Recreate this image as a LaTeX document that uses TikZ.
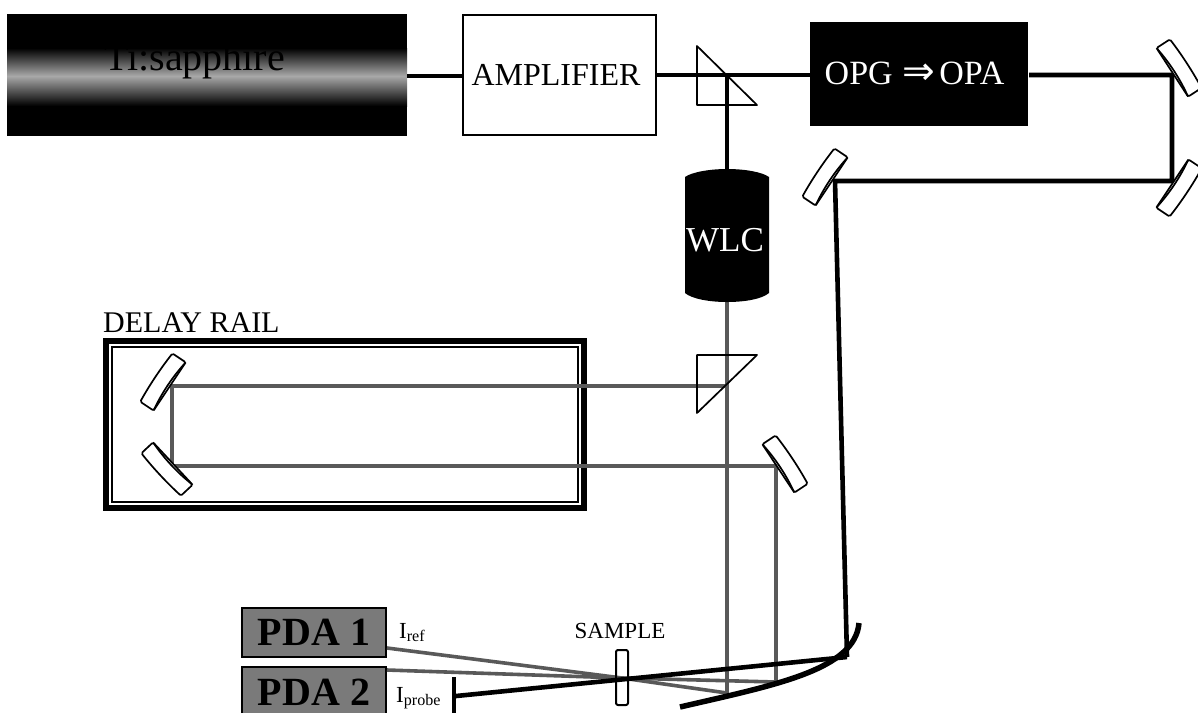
\documentclass[tikz,border=0pt]{standalone}
\usepackage{fontspec}
\setmainfont{Liberation Serif}
\newfontfamily\symfont{DejaVu Sans}
\definecolor{beamgray}{gray}{0.35}
\definecolor{pdagray}{gray}{0.48}
\tikzset{x=1pt,y=-1pt,
 beam/.style={line width=4.6pt,black},
 probe/.style={line width=3.6pt,beamgray},
 outline/.style={draw=black,line width=1.7pt,line join=round},
 pdabox/.style={fill=pdagray},
 pdatext/.style={inner sep=0pt,anchor=base,font=\fontsize{40}{40}\selectfont\bfseries,text=black},
 lab/.style={inner sep=0pt,anchor=base west}
}
% mirror: centre x, centre y, rotation; front face on local -x side
\newcommand{\mirr}[3]{%
 \begin{scope}[shift={(#1,#2)},rotate=#3]
  \draw[outline,fill=white,rounded corners=1.5pt] (-8,-29) -- (8,-29) .. controls (9.5,-10) and (9.5,10) .. (8,29) -- (-8,29) -- cycle;
  \draw[outline] (-8,-29) .. controls (-5,-10) and (-5,10) .. (-8,29);
 \end{scope}}
\begin{document}
\begin{tikzpicture}
\useasboundingbox (0,0) rectangle (1198,713);
\clip (0,0) rectangle (1198,713);
% Ti:sapphire box
\fill[black] (7,14) rectangle (407,136);
\shade[top color=black,bottom color=white!66!black] (7,48) rectangle (407,76);
\shade[top color=white!66!black,bottom color=black] (7,76) rectangle (407,106);
\node[lab,font=\fontsize{40}{40}\selectfont,text=black] (tisa) at (104,70) {Ti:sapphire};
\coordinate (tisaE) at (407,76);
% amplifier and OPG
\node[draw=black,line width=2pt,fill=white,minimum width=193pt,minimum height=120pt,inner sep=0pt,font=\fontsize{32}{32}\selectfont] (amp) at (559.5,75) {AMPLIFIER\kern7pt};
\node[fill=black,minimum width=218pt,minimum height=104pt,inner sep=0pt,text=white,font=\fontsize{34}{34}\selectfont] (opa) at (919,73.5) {OPG\kern10pt{\symfont\fontsize{39}{39}\selectfont⇒}\kern4ptOPA\kern9pt};
% delay rail
\draw[black,line width=6.5pt] (106.2,341.2) rectangle (583.8,507.8);
\draw[black,line width=1.2pt] (112,347) rectangle (578,502);
\node[lab,font=\fontsize{30}{30}\selectfont] (rail) at (103,332) {DELAY RAIL};
% coordinates
\coordinate (pa) at (727,75);
\coordinate (opaE) at (1029,75);
\coordinate (m1) at (1172,75);
\coordinate (m2) at (1172,181);
\coordinate (m3) at (835,181);
\coordinate (ifoc) at (847,657);
\coordinate (stop) at (456,696);
% PDA boxes
\fill[pdabox] (242,608) rectangle (386,657);
\draw[black,line width=1.5pt] (242,608) rectangle (386,657);
\node[pdatext] (pda1) at (314,645) {PDA 1};
\fill[pdabox] (242,667) rectangle (386,713);
\draw[black,line width=1.5pt] (242,713) -- (242,667) -- (386,667) -- (386,713);
\node[pdatext] (pda2) at (314,705) {PDA 2};
% probe beams
\coordinate (wlcS) at (727,300);
\coordinate (bs) at (727,386);
\coordinate (m4) at (172,386);
\coordinate (m5) at (172,466);
\coordinate (m6) at (776,466);
\coordinate (f1) at (727,693);
\coordinate (f2) at (776,682);
\coordinate (w) at (622,678);
\draw[probe] (wlcS) -- (bs) -- (f1) -- (w) -- (387,648);
\draw[probe] (bs) -- (m4) -- (m5) -- (m6) -- (f2) -- (w) -- (387,670);
% strong beams
\draw[beam] (tisaE) -- (amp.west |- tisaE);
\draw[beam] (amp.east |- pa) -- (pa) -- (opa.west |- pa);
\draw[beam] (pa) -- (727,172);
\draw[beam] (opaE) -- (m1) -- (m2) -- (m3) -- (ifoc);
\draw[beam] (ifoc) -- (stop);
\draw[line width=4pt,black] (454,677) -- (454,713);
% parabolic mirror
\draw[line width=5.5pt,black] (680,707) .. controls (775,685) and (855,670) .. (859,623);
% WLC
\fill[black] (685,177) .. controls (692,172) and (710,169) .. (727,169) .. controls (745,169) and (762,172) .. (769,177) -- (769,293) .. controls (762,299) and (745,302) .. (727,302) .. controls (710,302) and (692,299) .. (685,293) -- cycle;
\node[inner sep=0pt,text=white,font=\fontsize{35}{35}\selectfont] (wlc) at (725,240) {WLC};
% prisms
\draw[outline] (697,355) -- (757,355) -- (697,413) -- cycle;
\draw[outline] (697,46) -- (697,105) -- (757,105) -- cycle;
% sample and labels
\draw[outline,line width=2pt,rounded corners=2pt] (616,650) rectangle (628,705);
\node[inner sep=0pt,anchor=base,font=\fontsize{23}{23}\selectfont] (sample) at (620,638) {SAMPLE};
\node[lab,font=\fontsize{23}{23}\selectfont] (iref) at (399,638) {I\textsubscript{ref}};
\node[lab,font=\fontsize{23}{23}\selectfont] (iprobe) at (396,702) {I\textsubscript{probe}};
% mirrors
\mirr{1179}{68}{33}
\mirr{1179}{188}{-33.7}
\mirr{825}{177}{146.3}
\mirr{163}{382}{146.3}
\mirr{167}{469}{223}
\mirr{785}{464}{33.5}
\end{tikzpicture}
\end{document}
